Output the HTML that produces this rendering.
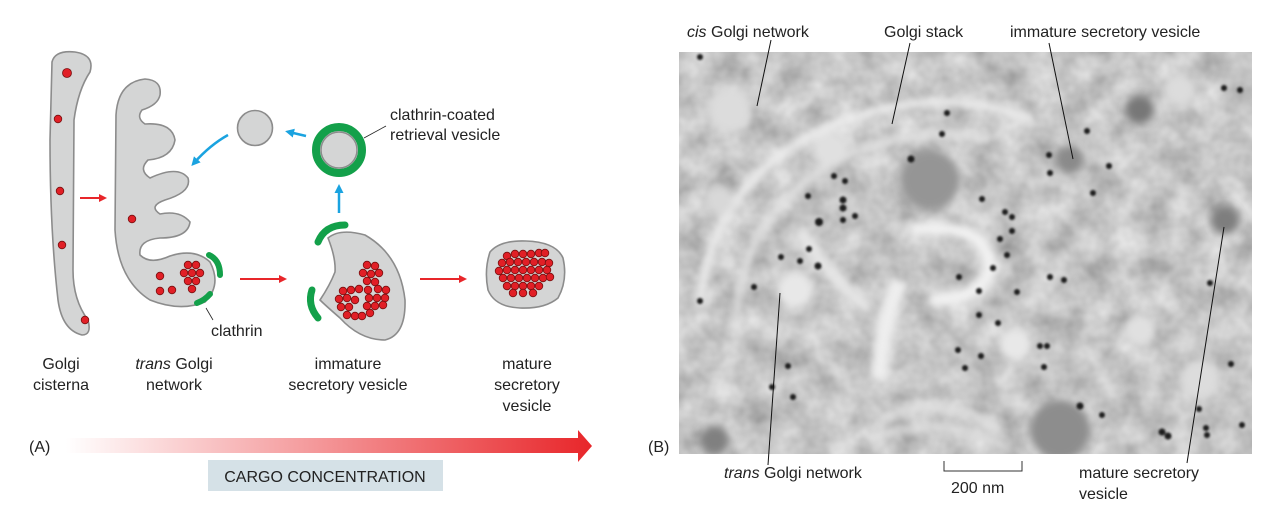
<!DOCTYPE html>
<html><head><meta charset="utf-8"><style>
html,body{margin:0;padding:0;background:#fff;}
svg{display:block;font-family:"Liberation Sans",sans-serif;}
</style></head><body>
<svg width="1282" height="522" viewBox="0 0 1282 522">
<defs>
<linearGradient id="g" x1="0" x2="1"><stop offset="0" stop-color="#fff"/><stop offset="1" stop-color="#e8262a"/></linearGradient>
<filter id="bl" x="-20%" y="-20%" width="140%" height="140%"><feGaussianBlur stdDeviation="4"/></filter>
<filter id="bs"><feGaussianBlur stdDeviation="1"/></filter>
<filter id="noise" x="0" y="0" width="100%" height="100%"><feTurbulence type="fractalNoise" baseFrequency="0.035" numOctaves="3" seed="7"/><feColorMatrix type="matrix" values="0.55 0 0 0 0.29  0.55 0 0 0 0.29  0.55 0 0 0 0.29  0 0 0 0 1"/></filter>
<clipPath id="cp"><rect x="679" y="52" width="573" height="402"/></clipPath>
<marker id="ra" markerWidth="8" markerHeight="8" refX="5" refY="4" orient="auto" markerUnits="userSpaceOnUse"><path d="M0,0 L8,4 L0,8 z" fill="#e8262a"/></marker>
<marker id="ba" markerWidth="9" markerHeight="9" refX="5" refY="4.5" orient="auto" markerUnits="userSpaceOnUse"><path d="M0,0 L9,4.5 L0,9 z" fill="#1aa3e0"/></marker>
</defs>

<path d="M52,62 Q55,50 75,52 Q95,55 90,72 Q78,90 74,120 L73,270 Q73,300 88,320 Q92,335 82,335 Q62,330 58,300 Q50,230 50,140 Z" fill="#d4d5d5" stroke="#8c8c8c" stroke-width="1.6"/>
<g fill="#e11f26" stroke="#7a1010" stroke-width="0.8">
<circle cx="67" cy="73" r="4.5"/><circle cx="58" cy="119" r="3.8"/><circle cx="60" cy="191" r="3.8"/><circle cx="62" cy="245" r="3.8"/><circle cx="85" cy="320" r="3.8"/></g>
<line x1="80" y1="198" x2="104" y2="198" stroke="#e8262a" stroke-width="2" marker-end="url(#ra)"/>

<path d="M116,115 Q118,82 145,79 Q162,80 160,95 Q158,105 142,110 Q136,118 145,124 Q172,122 175,140 Q172,158 148,160 Q138,170 150,178 Q178,165 188,178 Q192,192 165,200 Q148,206 160,214 Q180,210 190,222 Q188,238 160,238 Q138,240 140,255 Q150,265 170,256 Q195,248 210,262 Q222,285 205,302 Q180,312 150,300 Q118,280 115,230 Z" fill="#d4d5d5" stroke="#8c8c8c" stroke-width="1.6"/>
<g fill="#e11f26" stroke="#7a1010" stroke-width="0.8">
<circle cx="132" cy="219" r="3.8"/><circle cx="160" cy="276" r="3.8"/><circle cx="160" cy="291" r="3.8"/><circle cx="172" cy="290" r="3.8"/>
<circle cx="188" cy="265" r="3.8"/><circle cx="196" cy="265" r="3.8"/><circle cx="184" cy="273" r="3.8"/><circle cx="192" cy="273" r="3.8"/><circle cx="200" cy="273" r="3.8"/><circle cx="188" cy="281" r="3.8"/><circle cx="196" cy="281" r="3.8"/><circle cx="192" cy="289" r="3.8"/></g>
<path d="M209,255 Q220,260 220,275" stroke="#13a04a" stroke-width="6" fill="none" stroke-linecap="round"/>
<path d="M197,303 Q205,300 210,294" stroke="#13a04a" stroke-width="6" fill="none" stroke-linecap="round"/>
<line x1="206" y1="308" x2="213" y2="320" stroke="#222" stroke-width="0.8"/>
<text x="211" y="336" font-size="16" fill="#222">clathrin</text>

<circle cx="255" cy="128" r="17.5" fill="#d4d5d5" stroke="#8c8c8c" stroke-width="1.6"/>
<circle cx="339" cy="150" r="23" fill="#d4d5d5" stroke="#13a04a" stroke-width="8"/>
<circle cx="339" cy="150" r="18" fill="none" stroke="#8c8c8c" stroke-width="1.5"/>
<line x1="364" y1="138" x2="386" y2="126" stroke="#222" stroke-width="0.8"/>
<text x="390" y="120" font-size="16" fill="#222">clathrin-coated</text>
<text x="390" y="140" font-size="16" fill="#222">retrieval vesicle</text>
<line x1="339" y1="213" x2="339" y2="188" stroke="#1aa3e0" stroke-width="2.5" marker-end="url(#ba)"/>
<line x1="306" y1="136" x2="289" y2="132" stroke="#1aa3e0" stroke-width="2.5" marker-end="url(#ba)"/>
<path d="M228,135 Q210,145 194,163" stroke="#1aa3e0" stroke-width="2.5" fill="none" marker-end="url(#ba)"/>

<path d="M328,238 Q340,228 365,235 Q400,255 405,300 Q406,335 385,340 Q360,340 340,318 Q325,305 320,300 Q330,285 335,272 Q336,258 328,238 Z" fill="#d4d5d5" stroke="#8c8c8c" stroke-width="1.6"/>
<path d="M345,225 Q325,225 318,242" stroke="#13a04a" stroke-width="7" fill="none" stroke-linecap="round"/>
<path d="M312,290 Q307,305 318,318" stroke="#13a04a" stroke-width="7" fill="none" stroke-linecap="round"/>
<g fill="#e11f26" stroke="#7a1010" stroke-width="0.8">
<circle cx="367" cy="265" r="3.8"/><circle cx="375" cy="266" r="3.8"/><circle cx="363" cy="273" r="3.8"/><circle cx="371" cy="274" r="3.8"/><circle cx="379" cy="273" r="3.8"/><circle cx="367" cy="281" r="3.8"/><circle cx="375" cy="282" r="3.8"/>
<circle cx="343" cy="291" r="3.8"/><circle cx="351" cy="290" r="3.8"/><circle cx="359" cy="289" r="3.8"/><circle cx="368" cy="290" r="3.8"/><circle cx="378" cy="289" r="3.8"/><circle cx="386" cy="290" r="3.8"/>
<circle cx="339" cy="299" r="3.8"/><circle cx="347" cy="298" r="3.8"/><circle cx="355" cy="300" r="3.8"/><circle cx="369" cy="298" r="3.8"/><circle cx="377" cy="298" r="3.8"/><circle cx="385" cy="298" r="3.8"/>
<circle cx="341" cy="307" r="3.8"/><circle cx="349" cy="307" r="3.8"/><circle cx="367" cy="306" r="3.8"/><circle cx="375" cy="306" r="3.8"/><circle cx="383" cy="305" r="3.8"/>
<circle cx="347" cy="315" r="3.8"/><circle cx="355" cy="316" r="3.8"/><circle cx="362" cy="316" r="3.8"/><circle cx="370" cy="313" r="3.8"/></g>

<line x1="240" y1="279" x2="284" y2="279" stroke="#e8262a" stroke-width="2" marker-end="url(#ra)"/>
<line x1="420" y1="279" x2="464" y2="279" stroke="#e8262a" stroke-width="2" marker-end="url(#ra)"/>

<path d="M490,252 Q500,240 526,241 Q556,242 563,258 Q568,280 558,298 Q545,309 520,308 Q495,307 488,290 Q484,270 490,252 Z" fill="#d4d5d5" stroke="#8c8c8c" stroke-width="1.6"/>
<g fill="#e11f26" stroke="#7a1010" stroke-width="0.8">
<circle cx="507" cy="256" r="3.8"/><circle cx="515" cy="254" r="3.8"/><circle cx="523" cy="254" r="3.8"/><circle cx="531" cy="254" r="3.8"/><circle cx="539" cy="253" r="3.8"/><circle cx="545" cy="253" r="3.8"/>
<circle cx="502" cy="263" r="3.8"/><circle cx="510" cy="262" r="3.8"/><circle cx="518" cy="262" r="3.8"/><circle cx="526" cy="262" r="3.8"/><circle cx="534" cy="262" r="3.8"/><circle cx="542" cy="262" r="3.8"/><circle cx="549" cy="263" r="3.8"/>
<circle cx="499" cy="271" r="3.8"/><circle cx="507" cy="270" r="3.8"/><circle cx="515" cy="270" r="3.8"/><circle cx="523" cy="270" r="3.8"/><circle cx="531" cy="270" r="3.8"/><circle cx="539" cy="270" r="3.8"/><circle cx="547" cy="270" r="3.8"/>
<circle cx="503" cy="278" r="3.8"/><circle cx="511" cy="278" r="3.8"/><circle cx="519" cy="278" r="3.8"/><circle cx="527" cy="278" r="3.8"/><circle cx="535" cy="278" r="3.8"/><circle cx="543" cy="278" r="3.8"/><circle cx="550" cy="277" r="3.8"/>
<circle cx="507" cy="286" r="3.8"/><circle cx="515" cy="286" r="3.8"/><circle cx="523" cy="286" r="3.8"/><circle cx="531" cy="286" r="3.8"/><circle cx="539" cy="286" r="3.8"/>
<circle cx="513" cy="293" r="3.8"/><circle cx="523" cy="293" r="3.8"/><circle cx="533" cy="293" r="3.8"/></g>

<g font-size="16" fill="#222" text-anchor="middle">
<text x="61" y="369">Golgi</text><text x="61" y="390">cisterna</text>
<text x="174" y="369"><tspan font-style="italic">trans</tspan> Golgi</text><text x="174" y="390">network</text>
<text x="348" y="369">immature</text><text x="348" y="390">secretory vesicle</text>
<text x="527" y="369">mature</text><text x="527" y="390">secretory</text><text x="527" y="411">vesicle</text>
</g>

<text x="29" y="452" font-size="16" fill="#222">(A)</text>
<path d="M66,438 L578,438 L578,430 L592,446 L578,462 L578,453 L66,453 Z" fill="url(#g)"/>
<rect x="208" y="460" width="235" height="31" fill="#d5e1e7"/>
<text x="325" y="482" font-size="16" fill="#222" text-anchor="middle">CARGO CONCENTRATION</text>

<g clip-path="url(#cp)">
<rect x="679" y="52" width="573" height="402" fill="#acacac"/>
<rect x="679" y="52" width="573" height="402" filter="url(#noise)"/>
<g filter="url(#bl)">
<path d="M700,300 Q720,150 880,110 Q960,90 1030,120" stroke="#ececec" stroke-width="9" fill="none"/>
<path d="M735,330 Q740,200 860,150 Q930,125 990,140" stroke="#e2e2e2" stroke-width="7" fill="none"/>
<path d="M910,230 Q990,220 990,270 Q980,300 930,300" stroke="#f2f2f2" stroke-width="13" fill="none"/>
<path d="M900,280 Q880,330 880,380" stroke="#eeeeee" stroke-width="18" fill="none"/>
<path d="M800,230 Q830,280 870,310" stroke="#e6e6e6" stroke-width="11" fill="none"/>
<circle cx="795" cy="290" r="18" fill="#e8e8e8"/>
<circle cx="830" cy="150" r="18" fill="#e0e0e0"/>
<circle cx="1015" cy="345" r="16" fill="#e8e8e8"/>
<circle cx="1140" cy="330" r="16" fill="#e0e0e0"/>
<circle cx="730" cy="110" r="22" fill="#dcdcdc"/>
<circle cx="720" cy="200" r="14" fill="#d8d8d8"/>
<circle cx="1140" cy="110" r="14" fill="#777"/>
<circle cx="1225" cy="220" r="14" fill="#7e7e7e"/>
<circle cx="1070" cy="160" r="14" fill="#8a8a8a"/>
<circle cx="1060" cy="430" r="30" fill="#8d8d8d"/>
<circle cx="715" cy="440" r="14" fill="#808080"/>
<circle cx="930" cy="180" r="30" fill="#959595"/>
<path d="M880,420 Q940,390 1000,430" stroke="#e0e0e0" stroke-width="7" fill="none"/>
<path d="M870,440 Q940,410 1010,450" stroke="#e0e0e0" stroke-width="6" fill="none"/>
<circle cx="1180" cy="90" r="16" fill="#dcdcdc"/>
<circle cx="1200" cy="380" r="20" fill="#dcdcdc"/>
</g>
<g fill="#1a1a1a" filter="url(#bs)">
<circle cx="700" cy="57" r="3"/><circle cx="947" cy="113" r="3"/><circle cx="942" cy="134" r="3"/><circle cx="911" cy="159" r="3.5"/>
<circle cx="834" cy="176" r="3"/><circle cx="845" cy="181" r="3"/><circle cx="808" cy="196" r="3"/><circle cx="843" cy="200" r="3.5"/><circle cx="843" cy="208" r="3.5"/><circle cx="819" cy="222" r="4"/><circle cx="843" cy="220" r="3"/><circle cx="855" cy="216" r="3"/>
<circle cx="809" cy="249" r="3"/><circle cx="781" cy="257" r="3"/><circle cx="800" cy="261" r="3"/><circle cx="818" cy="266" r="3.5"/><circle cx="754" cy="287" r="3"/><circle cx="700" cy="301" r="3"/>
<circle cx="982" cy="199" r="3"/><circle cx="1005" cy="212" r="3"/><circle cx="1012" cy="217" r="3"/><circle cx="1012" cy="231" r="3"/><circle cx="1000" cy="239" r="3"/><circle cx="1007" cy="255" r="3"/><circle cx="993" cy="268" r="3"/><circle cx="959" cy="277" r="3"/><circle cx="979" cy="291" r="3"/><circle cx="1017" cy="292" r="3"/>
<circle cx="979" cy="315" r="3"/><circle cx="998" cy="323" r="3"/><circle cx="958" cy="350" r="3"/><circle cx="981" cy="356" r="3"/><circle cx="965" cy="368" r="3"/><circle cx="1040" cy="346" r="3"/><circle cx="1047" cy="346" r="3"/><circle cx="1044" cy="367" r="3"/>
<circle cx="1050" cy="277" r="3"/><circle cx="1064" cy="280" r="3"/><circle cx="1049" cy="155" r="3"/><circle cx="1050" cy="173" r="3"/><circle cx="1087" cy="131" r="3"/><circle cx="1109" cy="166" r="3"/><circle cx="1093" cy="193" r="3"/>
<circle cx="1224" cy="88" r="3"/><circle cx="1240" cy="90" r="3"/><circle cx="1210" cy="283" r="3"/><circle cx="1231" cy="364" r="3"/><circle cx="1199" cy="409" r="3"/><circle cx="1242" cy="425" r="3"/><circle cx="1206" cy="428" r="3"/><circle cx="1207" cy="435" r="3"/>
<circle cx="1080" cy="406" r="3.5"/><circle cx="1102" cy="415" r="3"/><circle cx="1162" cy="432" r="3.5"/><circle cx="1168" cy="436" r="3.5"/>
<circle cx="788" cy="366" r="3"/><circle cx="772" cy="387" r="3"/><circle cx="793" cy="397" r="3"/>
</g>
</g>
<g stroke="#111" stroke-width="1">
<line x1="771" y1="40" x2="757" y2="106"/>
<line x1="910" y1="43" x2="892" y2="124"/>
<line x1="1049" y1="43" x2="1073" y2="159"/>
<line x1="780" y1="293" x2="768" y2="465"/>
<line x1="1224" y1="227" x2="1187" y2="463"/>
</g>
<path d="M944,461 L944,471 L1022,471 L1022,461" fill="none" stroke="#333" stroke-width="1"/>
<g font-size="16" fill="#222">
<text x="687" y="37"><tspan font-style="italic">cis</tspan> Golgi network</text>
<text x="884" y="37">Golgi stack</text>
<text x="1010" y="37">immature secretory vesicle</text>
<text x="648" y="452">(B)</text>
<text x="724" y="478"><tspan font-style="italic">trans</tspan> Golgi network</text>
<text x="951" y="493">200 nm</text>
<text x="1079" y="478">mature secretory</text>
<text x="1079" y="499">vesicle</text>
</g>
</svg>
</body></html>
